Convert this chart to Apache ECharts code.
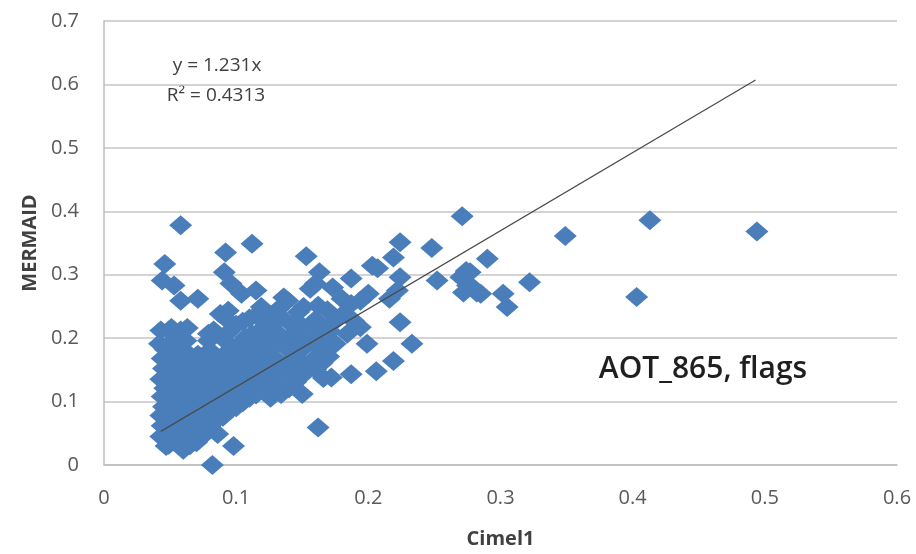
<!DOCTYPE html>
<html>
<head>
<meta charset="utf-8">
<script src="https://cdn.jsdelivr.net/npm/echarts@6/dist/echarts.min.js"></script>
<style>
html,body{margin:0;padding:0;background:#fff;}
#chart{width:916px;height:554px;}
</style>
</head>
<body>
<div id="chart"></div>
<script>
// Sparse / outlying points (Cimel1, MERMAID)
const sparseX = [0.058,0.112,0.092,0.046,0.044,0.053,0.058,0.071,0.091,0.096,0.104,0.115,0.119,0.136,0.043,0.051,0.058,0.063,0.042,0.079,0.083,0.079,0.088,0.091,0.094,0.128,0.086,0.098,0.082,
  0.271,0.153,0.224,0.219,0.248,0.203,0.207,0.224,0.163,0.160,0.173,0.187,0.156,0.200,0.180,0.187,0.194,0.252,0.270,0.277,0.275,0.282,0.272,0.285,0.290,0.302,0.305,0.322,0.216,0.222,0.224,0.233,0.219,0.206,0.187,0.150,0.162,0.194,0.199,0.184,0.189,0.181,0.169,0.156,0.166,0.136,0.126,0.172,0.134,0.139,0.151,0.134,0.349,0.413,0.494,0.403,0.274,0.279];
const sparseY = [0.378,0.349,0.335,0.317,0.291,0.283,0.259,0.262,0.304,0.286,0.270,0.275,0.249,0.264,0.212,0.216,0.212,0.216,0.191,0.207,0.212,0.196,0.238,0.233,0.243,0.233,0.049,0.030,0.000,
  0.392,0.329,0.351,0.327,0.342,0.314,0.310,0.296,0.304,0.286,0.280,0.294,0.278,0.270,0.262,0.254,0.259,0.291,0.296,0.304,0.283,0.272,0.272,0.270,0.325,0.270,0.249,0.288,0.262,0.275,0.225,0.191,0.164,0.148,0.143,0.112,0.059,0.217,0.191,0.207,0.227,0.238,0.185,0.159,0.137,0.117,0.106,0.138,0.112,0.259,0.249,0.233,0.361,0.386,0.368,0.265,0.306,0.280];

// Dense cluster points
const clusterX = [
  0.043,0.044,0.043,0.045,0.044,0.046,0.043,0.045,0.044,0.046,
  0.049,0.050,0.051,0.049,0.052,0.050,0.051,0.049,0.052,0.050,0.053,
  0.055,0.056,0.055,0.057,0.054,0.056,0.055,0.057,0.055,
  0.060,0.061,0.059,0.062,0.060,0.061,0.059,0.062,0.060,0.061,0.060,0.062,
  0.065,0.066,0.064,0.066,0.065,0.067,0.065,0.066,
  0.070,0.071,0.069,0.071,0.070,0.072,0.070,0.071,
  0.075,0.076,0.074,0.076,0.075,0.077,0.075,
  0.080,0.081,0.079,0.081,0.080,0.082,0.080,
  0.085,0.086,0.084,0.086,0.085,0.087,
  0.090,0.091,0.089,0.091,0.090,0.092,0.090,
  0.095,0.096,0.094,0.096,0.095,0.097,0.095,
  0.100,0.101,0.099,0.101,0.100,0.102,0.100,
  0.105,0.106,0.104,0.106,0.105,0.107,0.105,
  0.110,0.111,0.109,0.111,0.110,0.112,0.110,
  0.115,0.116,0.114,0.116,0.115,0.117,0.115,
  0.120,0.121,0.119,0.121,0.120,0.122,0.120,
  0.125,0.126,0.124,0.126,0.125,0.127,
  0.130,0.131,0.129,0.131,0.130,0.132,
  0.140,0.141,0.139,0.141,0.140,0.142,
  0.145,0.146,0.144,0.146,0.145,0.147,
  0.150,0.151,0.149,0.151,0.150,
  0.160,0.161,0.159,0.161,0.160,0.162,
  0.165,0.166,0.164,
  0.170,0.171,0.169,
  0.175,0.176,
  0.047,0.053,0.058,0.063,0.068,0.073,0.078,0.048,0.057,0.067
];
const clusterY = [
  0.045,0.062,0.078,0.092,0.108,0.121,0.135,0.152,0.168,0.183,
  0.032,0.052,0.071,0.086,0.101,0.116,0.131,0.149,0.171,0.192,0.205,
  0.038,0.058,0.079,0.094,0.112,0.126,0.141,0.162,0.181,
  0.024,0.041,0.062,0.076,0.089,0.104,0.121,0.136,0.151,0.166,0.182,0.196,
  0.031,0.049,0.069,0.091,0.109,0.128,0.148,0.171,
  0.036,0.056,0.074,0.096,0.114,0.134,0.156,0.174,
  0.046,0.066,0.086,0.104,0.126,0.144,0.161,
  0.061,0.079,0.101,0.119,0.139,0.156,0.181,
  0.071,0.091,0.111,0.129,0.151,0.166,
  0.076,0.096,0.116,0.136,0.154,0.176,0.199,
  0.086,0.104,0.126,0.146,0.164,0.186,0.211,
  0.091,0.111,0.129,0.151,0.171,0.189,0.221,
  0.099,0.121,0.141,0.159,0.181,0.201,0.226,
  0.106,0.124,0.146,0.166,0.184,0.206,0.231,
  0.111,0.131,0.149,0.171,0.191,0.209,0.236,
  0.119,0.141,0.161,0.179,0.201,0.219,0.241,
  0.126,0.144,0.166,0.186,0.204,0.226,
  0.131,0.151,0.169,0.191,0.211,0.246,
  0.121,0.141,0.161,0.179,0.201,0.221,
  0.131,0.149,0.171,0.189,0.209,0.241,
  0.141,0.161,0.181,0.199,0.219,
  0.151,0.171,0.191,0.209,0.229,0.251,
  0.161,0.201,0.221,
  0.171,0.211,0.244,
  0.191,0.229,
  0.030,0.040,0.030,0.036,0.045,0.055,0.070,0.060,0.050,0.060
];

// Linear trendline y = 1.231x, endpoints
const trendX = [0.043, 0.493];
const trendY = [0.053, 0.607];

const xTicks = [0, 0.1, 0.2, 0.3, 0.4, 0.5, 0.6];
const yTicks = [0, 0.1, 0.2, 0.3, 0.4, 0.5, 0.6, 0.7];

const FONT = '"Open Sans", "Liberation Sans", sans-serif';

const scatterData = [];
for (let i = 0; i < Math.min(sparseX.length, sparseY.length); i++) scatterData.push([sparseX[i], sparseY[i]]);
for (let i = 0; i < Math.min(clusterX.length, clusterY.length); i++) scatterData.push([clusterX[i], clusterY[i]]);
const trendData = trendX.map((x, i) => [x, trendY[i]]);

const chart = echarts.init(document.getElementById('chart'), null, {renderer: 'canvas'});
chart.setOption({
  animation: false,
  backgroundColor: '#ffffff',
  grid: {left: 104, right: 19, top: 21, bottom: 88, containLabel: false},
  xAxis: {
    type: 'value', min: xTicks[0], max: xTicks[xTicks.length - 1], interval: 0.1,
    name: 'Cimel1', nameLocation: 'middle', nameGap: 64,
    nameTextStyle: {fontFamily: FONT, fontSize: 20, fontWeight: 'bold', color: '#404040'},
    axisLine: {show: true, lineStyle: {color: '#BDBDBD', width: 1.5}},
    axisTick: {show: false},
    axisLabel: {fontFamily: FONT, fontSize: 20, color: '#595959', margin: 23},
    splitLine: {show: false}
  },
  yAxis: {
    type: 'value', min: yTicks[0], max: yTicks[yTicks.length - 1], interval: 0.1,
    name: 'MERMAID', nameLocation: 'middle', nameGap: 60, nameRotate: 90,
    nameTextStyle: {fontFamily: FONT, fontSize: 20, fontWeight: 'bold', color: '#404040'},
    axisLine: {show: true, lineStyle: {color: '#BDBDBD', width: 1.5}},
    axisTick: {show: false},
    axisLabel: {fontFamily: FONT, fontSize: 20, color: '#595959', margin: 25},
    splitLine: {show: true, lineStyle: {color: '#C4C4C4', width: 1.5}}
  },
  series: [
    {
      type: 'scatter', data: scatterData, symbol: 'diamond', symbolSize: [23, 20],
      itemStyle: {color: '#4A7EBB', opacity: 1}, z: 2
    },
    {
      type: 'line', data: trendData, showSymbol: false, symbol: 'none',
      lineStyle: {color: '#4a4a4a', width: 1.2}, z: 3, silent: true
    }
  ],
  graphic: [
    {type: 'text', x: 217, y: 66, style: {text: 'y = 1.231x', fontFamily: FONT, fontSize: 19, fill: '#404040', align: 'center', verticalAlign: 'middle'}},
    {type: 'text', x: 216, y: 96, style: {text: 'R² = 0.4313', fontFamily: FONT, fontSize: 19, fill: '#404040', align: 'center', verticalAlign: 'middle'}},
    {type: 'text', x: 703, y: 369, style: {text: 'AOT_865, flags', fontFamily: FONT, fontSize: 30, fontWeight: 600, fill: '#1f1f1f', align: 'center', verticalAlign: 'middle'}}
  ]
});
</script>
</body>
</html>
